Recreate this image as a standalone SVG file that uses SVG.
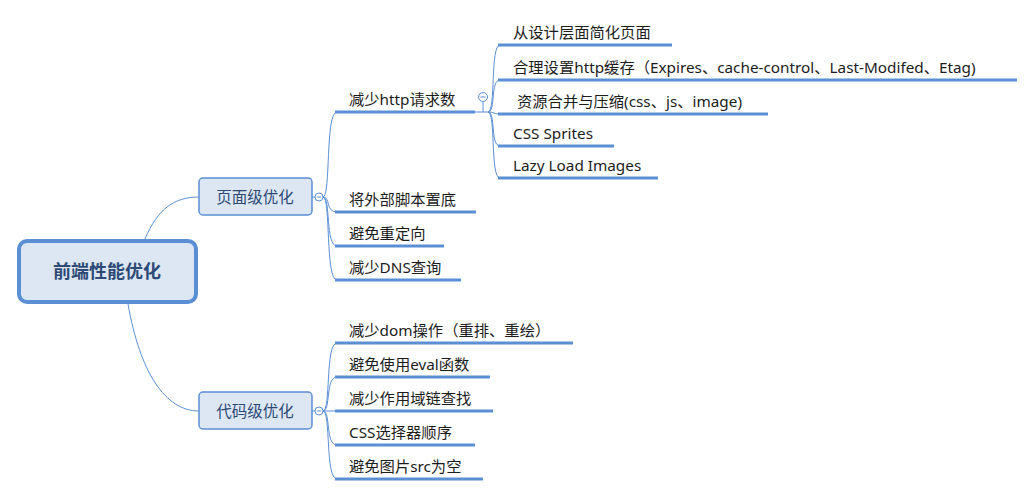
<svg xmlns="http://www.w3.org/2000/svg" width="1035" height="496" viewBox="0 0 1035 496">
<style>
.t{font-family:"Noto Sans","Noto Sans CJK SC",sans-serif;font-size:15.3px;fill:#1c1c1c}
.ul{stroke:#5b8fd4;stroke-width:3;fill:none}
.c{stroke:#5b8fd4;stroke-width:1;fill:none}
.btn{fill:#fff;stroke:#5b8fd4;stroke-width:1}
.box{fill:#dde7f3;stroke:#5b8fd4}
.bt{font-family:"Noto Sans CJK SC",sans-serif;fill:#2d4a76;text-anchor:middle}
</style>
<rect width="1035" height="496" fill="#fff"/>
<g id="connectors">
<path class="c" d="M145,239 C158,208 175,197 199,197"/>
<path class="c" d="M128,304 C140,372 165,411 199,411"/>
<path class="c" d="M312,197 L315,197"/>
<path class="c" d="M312,411 L315,411"/>
<path class="c" d="M323,197 C331,197 325,112 337,112"/>
<path class="c" d="M323,197 C331,197 325,212 337,212"/>
<path class="c" d="M323,197 C331,197 325,246 337,246"/>
<path class="c" d="M323,197 C331,197 325,280 337,280"/>
<path class="c" d="M323,411 C331,411 325,343 337,343"/>
<path class="c" d="M323,411 C331,411 325,377 337,377"/>
<path class="c" d="M323,411 L337,411"/>
<path class="c" d="M323,411 C331,411 325,445 337,445"/>
<path class="c" d="M323,411 C331,411 325,479 337,479"/>
<path class="c" d="M475,112 L488,112"/>
<path class="c" d="M488,112 C496,112 490,45 500,45"/>
<path class="c" d="M488,112 C496,112 490,80 500,80"/>
<path class="c" d="M488,112 C494,112 494,114 500,114"/>
<path class="c" d="M488,112 C496,112 490,146 500,146"/>
<path class="c" d="M488,112 C496,112 490,178 500,178"/>
<path class="c" d="M483,102 L483,112"/>
</g>
<g id="root">
<rect class="box" x="19" y="241" width="177" height="61" rx="8" stroke-width="4"/>
<text class="bt" x="107" y="278" font-size="18" font-weight="bold">前端性能优化</text>
</g>
<g id="page">
<rect class="box" x="199" y="178" width="113" height="37" rx="4" stroke-width="1.5"/>
<text class="bt" x="255" y="203" font-size="15.5">页面级优化</text>
<circle class="btn" cx="319" cy="197" r="4"/>
<line x1="317" y1="197" x2="321" y2="197" stroke="#5b8fd4" stroke-width="1"/>
</g>
<g id="code">
<rect class="box" x="199" y="392" width="113" height="37" rx="4" stroke-width="1.5"/>
<text class="bt" x="255" y="417" font-size="15.5">代码级优化</text>
<circle class="btn" cx="319" cy="411" r="4"/>
<line x1="317" y1="411" x2="321" y2="411" stroke="#5b8fd4" stroke-width="1"/>
</g>
<g id="http">
<line class="ul" x1="335" y1="112" x2="475" y2="112"/>
<text class="t" x="349" y="105">减少http请求数</text>
<circle class="btn" cx="483" cy="97" r="4.5"/>
<line x1="480.5" y1="97" x2="485.5" y2="97" stroke="#5b8fd4" stroke-width="1"/>
</g>
<g id="n-design">
<line class="ul" x1="498" y1="45" x2="672" y2="45"/>
<text class="t" x="513" y="38">从设计层面简化页面</text>
</g>
<g id="n-cache">
<line class="ul" x1="498" y1="80" x2="1017" y2="80"/>
<text class="t" x="513" y="73">合理设置http缓存（Expires、cache-control、Last-Modifed、Etag)</text>
</g>
<g id="n-merge">
<line class="ul" x1="498" y1="114" x2="768" y2="114"/>
<text class="t" x="517" y="107">资源合并与压缩(css、js、image)</text>
</g>
<g id="n-sprites">
<line class="ul" x1="498" y1="146" x2="614" y2="146"/>
<text class="t" x="513" y="139">CSS Sprites</text>
</g>
<g id="n-lazy">
<line class="ul" x1="498" y1="178" x2="658" y2="178"/>
<text class="t" x="513" y="171">Lazy Load Images</text>
</g>
<g id="n-script">
<line class="ul" x1="335" y1="212" x2="476" y2="212"/>
<text class="t" x="349" y="205">将外部脚本置底</text>
</g>
<g id="n-redirect">
<line class="ul" x1="335" y1="246" x2="444" y2="246"/>
<text class="t" x="349" y="239">避免重定向</text>
</g>
<g id="n-dns">
<line class="ul" x1="335" y1="280" x2="461" y2="280"/>
<text class="t" x="349" y="273">减少DNS查询</text>
</g>
<g id="n-dom">
<line class="ul" x1="335" y1="343" x2="573" y2="343"/>
<text class="t" x="349" y="336">减少dom操作（重排、重绘）</text>
</g>
<g id="n-eval">
<line class="ul" x1="335" y1="377" x2="490" y2="377"/>
<text class="t" x="349" y="370">避免使用eval函数</text>
</g>
<g id="n-scope">
<line class="ul" x1="335" y1="411" x2="493" y2="411"/>
<text class="t" x="349" y="404">减少作用域链查找</text>
</g>
<g id="n-css">
<line class="ul" x1="335" y1="445" x2="475" y2="445"/>
<text class="t" x="349" y="438">CSS选择器顺序</text>
</g>
<g id="n-src">
<line class="ul" x1="335" y1="479" x2="483" y2="479"/>
<text class="t" x="349" y="472">避免图片src为空</text>
</g>
</svg>
